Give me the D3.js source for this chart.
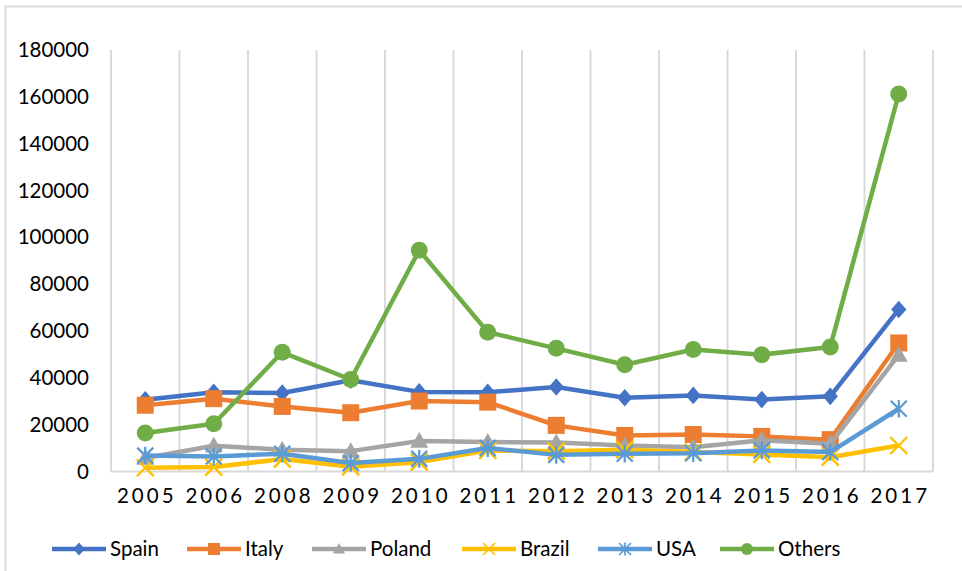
<!DOCTYPE html>
<html>
<head>
<meta charset="utf-8">
<script src="https://cdn.jsdelivr.net/npm/d3@7/dist/d3.min.js"></script>
<style>
  html, body { margin: 0; padding: 0; background: #fff; }
  svg { display: block; }
  text { font-family: Lato, "Open Sans", sans-serif; fill: #000; }
</style>
</head>
<body>
<svg id="chart" width="962" height="571"></svg>
<script>
// Years on the category axis
const years = ["2005", "2006", "2008", "2009", "2010", "2011", "2012", "2013", "2014", "2015", "2016", "2017"];

// Values per country
const spain  = [30600, 33800, 33500, 39000, 34000, 33800, 36100, 31500, 32500, 30700, 32100, 69200];
const italy  = [28300, 31100, 27800, 25100, 30100, 29600, 19700, 15400, 15800, 15000, 13600, 54900];
const poland = [ 5800, 11000,  9300,  8700, 13000, 12600, 12400, 11100, 10400, 13300, 11800, 49800];
const brazil = [ 1600,  1900,  5300,  2000,  4000,  9000,  8700,  9300,  8300,  7300,  6100, 11100];
const usa    = [ 6800,  6400,  7600,  3600,  5400, 10000,  7100,  7600,  7800,  9000,  8300, 26800];
const others = [16400, 20400, 50900, 39300, 94500, 59500, 52600, 45600, 52100, 49900, 53200, 161200];

// Y axis tick values
const yTicks = [0, 20000, 40000, 60000, 80000, 100000, 120000, 140000, 160000, 180000];

const seriesNames = ["Spain", "Italy", "Poland", "Brazil", "USA", "Others"];
const seriesValues = [spain, italy, poland, brazil, usa, others];
const colors = ["#4472C4", "#ED7D31", "#A5A5A5", "#FFC000", "#5B9BD5", "#70AD47"];
const markers = ["diamond", "square", "triangle", "x", "star", "circle"];
const markerSizes = [16, 17, 18, 17, 16, 17];

const series = seriesNames.map((name, i) => ({
  name, color: colors[i], marker: markers[i], size: markerSizes[i],
  points: years.map((y, j) => ({ year: y, value: seriesValues[i][j] }))
}));

const svg = d3.select("#chart");
const plot = { left: 111, right: 933, top: 50, bottom: 471.5 };

// Outer frame (top and left edges visible)
svg.append("path")
  .attr("d", "M5.5,571 V6.5 H962")
  .attr("fill", "none")
  .attr("stroke", "#d9d9d9")
  .attr("stroke-width", 2);

const x = d3.scaleBand().domain(years).range([plot.left, plot.right]).padding(0);
const y = d3.scaleLinear().domain([0, 180000]).range([plot.bottom, plot.top]);
const cx = d => x(d) + x.bandwidth() / 2;

// Vertical gridlines at category boundaries
const bounds = years.map(d => x(d)).concat([plot.right]);
svg.append("g").selectAll("line").data(bounds).join("line")
  .attr("x1", d => d).attr("x2", d => d)
  .attr("y1", plot.top).attr("y2", plot.bottom)
  .attr("stroke", "#d9d9d9").attr("stroke-width", 2);

// Category axis line
svg.append("line")
  .attr("x1", plot.left).attr("x2", plot.right)
  .attr("y1", plot.bottom).attr("y2", plot.bottom)
  .attr("stroke", "#d9d9d9").attr("stroke-width", 2);

// Value axis labels
const yAxis = svg.append("g")
  .attr("transform", `translate(${plot.left - 22},0)`)
  .call(d3.axisLeft(y).tickValues(yTicks).tickSize(0).tickPadding(0).tickFormat(d3.format("d")));
yAxis.select(".domain").remove();
yAxis.selectAll("text")
  .style("font-family", "Lato, 'Open Sans', sans-serif")
  .style("font-size", "20.5px")
  .attr("fill", "#000");

// Category axis labels (letter-spaced)
const xAxis = svg.append("g")
  .attr("transform", `translate(0,${plot.bottom + 17})`)
  .call(d3.axisBottom(x).tickSize(0).tickPadding(0));
xAxis.select(".domain").remove();
xAxis.selectAll("text")
  .style("font-family", "Lato, 'Open Sans', sans-serif")
  .style("font-size", "20.5px")
  .style("letter-spacing", "3px")
  .attr("dx", "1.5px")
  .attr("fill", "#000");

// Marker drawing
function drawMarker(g, type, color, s) {
  const h = s / 2;
  const sw = Math.max(1.5, s / 7);
  switch (type) {
    case "diamond":
      g.append("path").attr("d", `M0,${-h * 1.1} L${h * 0.95},0 L0,${h * 1.1} L${-h * 0.95},0 Z`).attr("fill", color);
      break;
    case "square":
      g.append("rect").attr("x", -h).attr("y", -h).attr("width", s).attr("height", s).attr("fill", color);
      break;
    case "triangle":
      g.append("path").attr("d", `M0,${-h * 1.0} L${h},${h * 0.75} L${-h},${h * 0.75} Z`).attr("fill", color);
      break;
    case "x":
      g.append("path").attr("d", `M${-h},${-h} L${h},${h} M${h},${-h} L${-h},${h}`)
        .attr("stroke", color).attr("stroke-width", sw).attr("fill", "none");
      break;
    case "star":
      g.append("path").attr("d", `M${-h},${-h} L${h},${h} M${h},${-h} L${-h},${h} M0,${-h * 1.1} L0,${h * 1.1}`)
        .attr("stroke", color).attr("stroke-width", sw).attr("fill", "none");
      break;
    case "circle":
      g.append("circle").attr("r", h).attr("fill", color);
      break;
  }
}

const line = d3.line().x(d => cx(d.year)).y(d => y(d.value));

const sg = svg.append("g").selectAll("g.series").data(series).join("g").attr("class", "series");
sg.each(function (s) {
  const g = d3.select(this);
  g.append("path")
    .attr("d", line(s.points))
    .attr("fill", "none")
    .attr("stroke", s.color)
    .attr("stroke-width", 4.5)
    .attr("stroke-linejoin", "round");
  g.selectAll("g.m").data(s.points).join("g").attr("class", "m")
    .attr("transform", d => `translate(${cx(d.year)},${y(d.value)})`)
    .each(function () { drawMarker(d3.select(this), s.marker, s.color, s.size); });
});

// Legend
const legendX = [52, 187, 312, 462, 598, 720];
const legendY = 549;
const lg = svg.append("g").selectAll("g").data(series).join("g")
  .attr("transform", (d, i) => `translate(${legendX[i]},${legendY})`);
lg.append("line").attr("x1", 0).attr("x2", 54).attr("y1", 0).attr("y2", 0)
  .attr("stroke", d => d.color).attr("stroke-width", 4.5);
lg.each(function (d) {
  const m = d3.select(this).append("g").attr("transform", "translate(27,0)");
  drawMarker(m, d.marker, d.color, 12);
});
lg.append("text").attr("x", 58).attr("y", 0).attr("dy", "0.35em")
  .style("font-size", "20.5px")
  .text(d => d.name);
</script>
</body>
</html>
